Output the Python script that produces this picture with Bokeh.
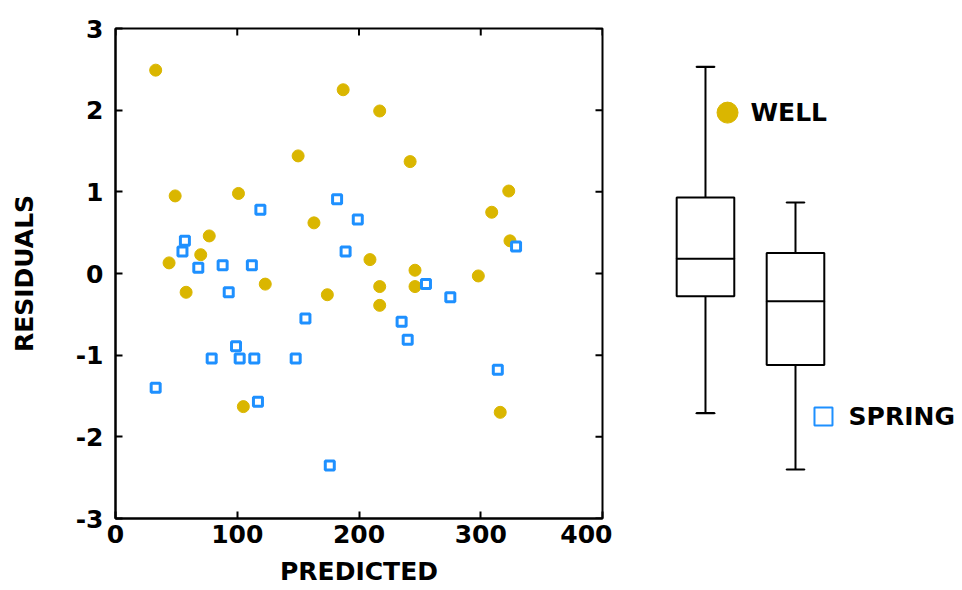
import math
from bokeh.plotting import figure
from bokeh.models import Range1d, FixedTicker, ColumnDataSource
from bokeh.layouts import row
from bokeh.embed import file_html
from bokeh.resources import INLINE
from bokeh.core.properties import value

# ---------------- data ----------------
well_predicted = [33, 187, 150, 49, 101, 163, 77, 70, 44, 58, 123, 174, 105,
                  217, 242, 323, 309, 324, 209, 246, 298, 217, 246, 217, 316]
well_residual = [2.49, 2.25, 1.44, 0.95, 0.98, 0.62, 0.46, 0.23, 0.13, -0.23, -0.13, -0.26, -1.63,
                 1.99, 1.37, 1.01, 0.75, 0.40, 0.17, 0.04, -0.03, -0.16, -0.16, -0.39, -1.70]

spring_predicted = [182, 119, 199, 57, 55, 189, 68, 88, 112, 93, 156, 99, 79, 102, 114, 148,
                    33, 117, 176, 255, 275, 235, 240, 314, 329]
spring_residual = [0.91, 0.78, 0.66, 0.40, 0.27, 0.27, 0.07, 0.10, 0.10, -0.23, -0.55, -0.89,
                   -1.04, -1.04, -1.04, -1.04, -1.40, -1.57, -2.35, -0.13, -0.29, -0.59, -0.81,
                   -1.18, 0.33]

groups = ["WELL", "SPRING"]
group_pos = [1, 2]
box_whisker_low = [-1.71, -2.40]
box_q1 = [-0.28, -1.12]
box_median = [0.18, -0.34]
box_q3 = [0.93, 0.25]
box_whisker_high = [2.53, 0.87]

x_ticks = [0, 100, 200, 300, 400]
y_ticks = [-3, -2, -1, 0, 1, 2, 3]
y_tick_labels = ["-3", "-2", "-1", "0", "1", "2", "3"]

GOLD = "#DAB600"
BLUE = "#1E90FF"
FONT = "DejaVu Sans"

H = 588
B_TOP, B_BOTTOM = 28, 70
X0, X1 = 0, 400
Y0, Y1 = -3, 3

# ---------------- scatter panel ----------------
p = figure(width=612, height=H, output_backend="svg", toolbar_location=None,
           x_range=Range1d(X0, X1), y_range=Range1d(Y0, Y1),
           min_border_left=115, min_border_right=10,
           min_border_top=B_TOP, min_border_bottom=B_BOTTOM,
           x_axis_label="PREDICTED", y_axis_label="RESIDUALS")
p.grid.visible = False
p.outline_line_color = "black"
p.outline_line_width = 2
p.background_fill_color = "white"
p.border_fill_color = "white"

p.xaxis.ticker = FixedTicker(ticks=x_ticks)
p.yaxis.ticker = FixedTicker(ticks=y_ticks)
p.yaxis.major_label_overrides = {t: l for t, l in zip(y_ticks, y_tick_labels)}
for ax in (p.xaxis[0], p.yaxis[0]):
    ax.axis_line_width = 2
    ax.axis_line_color = "black"
    ax.major_tick_in = 7
    ax.major_tick_out = 0
    ax.major_tick_line_width = 2
    ax.minor_tick_line_color = None
    ax.major_label_text_font = FONT
    ax.major_label_text_font_style = "bold"
    ax.major_label_text_font_size = "25px"
    ax.major_label_text_color = "black"
    ax.axis_label_text_font = FONT
    ax.axis_label_text_font_style = "bold"
    ax.axis_label_text_font_size = "25px"
    ax.axis_label_text_color = "black"
p.xaxis.major_label_standoff = 6
p.xaxis.axis_label_standoff = 11
p.yaxis.major_label_standoff = 12
p.yaxis.axis_label_standoff = 34

# mirrored inward ticks on the top and right frame edges
p.ray(x=[X1] * len(y_ticks), y=y_ticks, length=7, length_units="screen",
      angle=math.pi, line_color="black", line_width=2)
p.ray(x=x_ticks, y=[Y1] * len(x_ticks), length=7, length_units="screen",
      angle=-math.pi / 2, line_color="black", line_width=2)

well_src = ColumnDataSource(dict(x=well_predicted, y=well_residual))
spring_src = ColumnDataSource(dict(x=spring_predicted, y=spring_residual))
p.scatter("x", "y", source=well_src, marker="circle", size=12,
          fill_color=GOLD, line_color=GOLD)
p.scatter("x", "y", source=spring_src, marker="square", size=9,
          fill_color="white", line_color=BLUE, line_width=3)

# ---------------- box plot panel ----------------
q = figure(width=346, height=H, output_backend="svg", toolbar_location=None,
           x_range=Range1d(-0.033, 3.811), y_range=p.y_range,
           x_axis_location=None, y_axis_location=None,
           min_border_left=0, min_border_right=0,
           min_border_top=B_TOP, min_border_bottom=B_BOTTOM)
q.grid.visible = False
q.outline_line_color = None

box_w = 0.64
cap_w = 0.2
bsrc = ColumnDataSource(dict(x=group_pos, lo=box_whisker_low, q1=box_q1, med=box_median,
                             q3=box_q3, hi=box_whisker_high))
q.segment(x0="x", y0="q3", x1="x", y1="hi", source=bsrc, line_color="black", line_width=2)
q.segment(x0="x", y0="lo", x1="x", y1="q1", source=bsrc, line_color="black", line_width=2)
q.vbar(x="x", width=box_w, bottom="q1", top="q3", source=bsrc,
       fill_color="white", line_color="black", line_width=2)
q.rect(x="x", y="med", width=box_w, height=0.001, source=bsrc,
       fill_color="black", line_color="black", line_width=2)
q.rect(x="x", y="hi", width=cap_w, height=0.001, source=bsrc,
       fill_color="black", line_color="black", line_width=2)
q.rect(x="x", y="lo", width=cap_w, height=0.001, source=bsrc,
       fill_color="black", line_color="black", line_width=2)

# legend entries
leg_marker_x = [1.245, 2.311]
leg_marker_y = [1.97, -1.75]
leg_text_x = [1.50, 2.59]
q.scatter(x=[leg_marker_x[0]], y=[leg_marker_y[0]], marker="circle", size=21,
          fill_color=GOLD, line_color=GOLD)
q.scatter(x=[leg_marker_x[1]], y=[leg_marker_y[1]], marker="square", size=18,
          fill_color="white", line_color=BLUE, line_width=2)
q.text(x=leg_text_x, y=leg_marker_y, text=groups, text_font=value(FONT),
       text_font_style="bold", text_font_size="25px", text_baseline="middle",
       text_align="left", text_color="black")

layout = row(p, q)
open("out.html", "w").write(file_html(layout, INLINE))
